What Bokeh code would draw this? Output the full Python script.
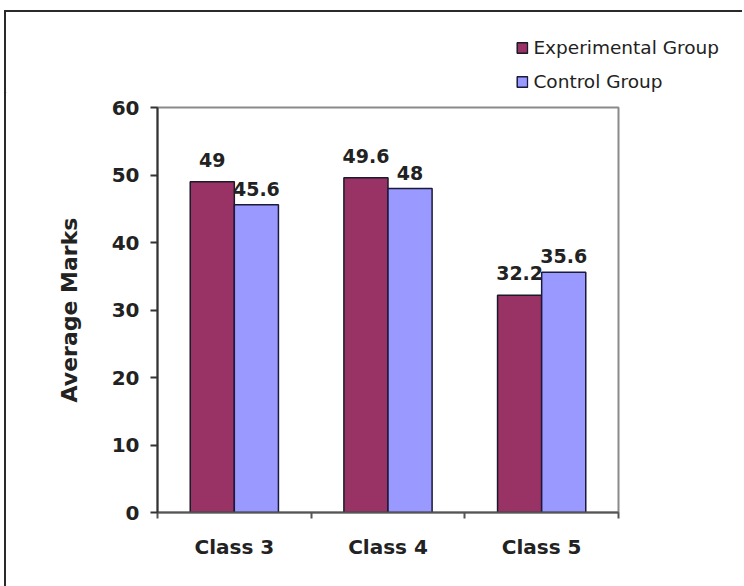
from bokeh.plotting import figure
from bokeh.models import (ColumnDataSource, FixedTicker, Legend, LegendItem,
                          LinearAxis, Range1d)
from bokeh.core.properties import value
from bokeh.embed import file_html
from bokeh.resources import INLINE

classes = ["Class 3", "Class 4", "Class 5"]
experimental = [49, 49.6, 32.2]
control = [45.6, 48, 35.6]
series_names = ["Experimental Group", "Control Group"]
y_ticks = [0, 10, 20, 30, 40, 50, 60]

exp_color = "#993366"
ctl_color = "#9999FF"
bar_w = 0.287

centers = [i + 0.5 for i in range(len(classes))]
src = ColumnDataSource(dict(
    xe=[c - bar_w / 2 for c in centers],
    xc=[c + bar_w / 2 for c in centers],
    exp=experimental,
    ctl=control,
    exp_lbl=[f"{v:g}" for v in experimental],
    ctl_lbl=[f"{v:g}" for v in control],
))

W = 738
H_TOP = 81
H_MAIN = 493

# ---------------- legend strip (top) ----------------
lf = figure(width=W, height=H_TOP, output_backend="svg", toolbar_location=None,
            x_range=Range1d(0, 1), y_range=Range1d(0, 1),
            x_axis_type=None, y_axis_type=None,
            min_border_left=0, min_border_right=0, min_border_top=0,
            min_border_bottom=0)
lf.outline_line_color = None
lf.grid.visible = False
lf.background_fill_color = "white"
lf.border_fill_color = "white"
# swatch renderers for the legend (their bars lie outside the visible range)
d_exp = lf.vbar(x=[-10], top=[-10], bottom=[-11], width=0.1, fill_color=exp_color,
                line_color="#1a1a2a", line_width=1.5)
d_ctl = lf.vbar(x=[-10], top=[-10], bottom=[-11], width=0.1, fill_color=ctl_color,
                line_color="#1a1a3a", line_width=1.5)
legend = Legend(items=[LegendItem(label=series_names[0], renderers=[d_exp]),
                       LegendItem(label=series_names[1], renderers=[d_ctl])],
                location="top_right", orientation="vertical")
legend.border_line_color = None
legend.background_fill_alpha = 0
legend.padding = 0
legend.margin = 25
legend.glyph_width = 13
legend.glyph_height = 13
legend.label_standoff = 5
legend.spacing = 13
legend.label_text_font = "DejaVu Sans"
legend.label_text_font_size = "18.5px"
legend.label_text_color = "#222222"
lf.add_layout(legend, "center")
lf.margin = (12, 0, 0, 6)
lf.styles = {"box-shadow": "-2px -2px 0 0 #2a2a2a, -2px 0 0 0 #2a2a2a"}

# ---------------- main chart ----------------
p = figure(width=W, height=H_MAIN, output_backend="svg", toolbar_location=None,
           x_range=Range1d(0, len(classes)), y_range=Range1d(0, 60),
           x_axis_type=None, y_axis_type=None,
           min_border_left=151, min_border_top=14, min_border_right=W + 6 - 618,
           min_border_bottom=74)
p.background_fill_color = "white"
p.border_fill_color = "white"
p.outline_line_color = "#8a8a8a"
p.outline_line_width = 2
p.margin = (0, 0, 0, 6)
p.styles = {"box-shadow": "-2px 0 0 0 #2a2a2a"}

p.vbar(x="xe", top="exp", width=bar_w, source=src, fill_color=exp_color,
       line_color="#1a1a2a", line_width=1.5)
p.vbar(x="xc", top="ctl", width=bar_w, source=src, fill_color=ctl_color,
       line_color="#1a1a3a", line_width=1.5)

yax = LinearAxis(ticker=FixedTicker(ticks=y_ticks))
yax.axis_label = "Average Marks"
yax.axis_label_text_font = "DejaVu Sans"
yax.axis_label_text_font_style = "bold"
yax.axis_label_text_font_size = "22px"
yax.axis_label_text_color = "#222222"
yax.axis_label_standoff = 27
yax.major_label_text_font = "DejaVu Sans"
yax.major_label_text_font_style = "bold"
yax.major_label_text_font_size = "20px"
yax.major_label_text_color = "#222222"
yax.major_label_standoff = 11
yax.major_tick_out = 7
yax.major_tick_in = 0
yax.major_tick_line_width = 2
yax.major_tick_line_color = "#333333"
yax.minor_tick_line_color = None
yax.axis_line_width = 2
yax.axis_line_color = "#333333"
p.add_layout(yax, "left")

xax = LinearAxis(ticker=FixedTicker(ticks=centers,
                                    minor_ticks=list(range(len(classes) + 1))))
xax.major_label_overrides = {c: n for c, n in zip(centers, classes)}
xax.major_label_text_font = "DejaVu Sans"
xax.major_label_text_font_style = "bold"
xax.major_label_text_font_size = "20px"
xax.major_label_text_color = "#222222"
xax.major_label_standoff = 16
xax.major_tick_line_color = None
xax.major_tick_out = 0
xax.major_tick_in = 0
xax.minor_tick_out = 6
xax.minor_tick_in = 0
xax.minor_tick_line_width = 2
xax.minor_tick_line_color = "#555555"
xax.axis_line_width = 2
xax.axis_line_color = "#555555"
p.add_layout(xax, "below")

p.ygrid.ticker = FixedTicker(ticks=y_ticks[1:-1])
p.ygrid.grid_line_color = "#333333"
p.ygrid.grid_line_width = 1.5
p.xgrid.visible = False

for xcol, ycol, lcol, off in (("xe", "exp", "exp_lbl", -22),
                              ("xc", "ctl", "ctl_lbl", -16)):
    p.text(x=xcol, y=ycol, text=lcol, source=src, text_align="center",
           text_baseline="alphabetic", y_offset=off,
           text_font=value("DejaVu Sans"), text_font_style="bold",
           text_font_size="19px", text_color="#222222")

open("out.html", "w").write(file_html([lf, p], INLINE))
